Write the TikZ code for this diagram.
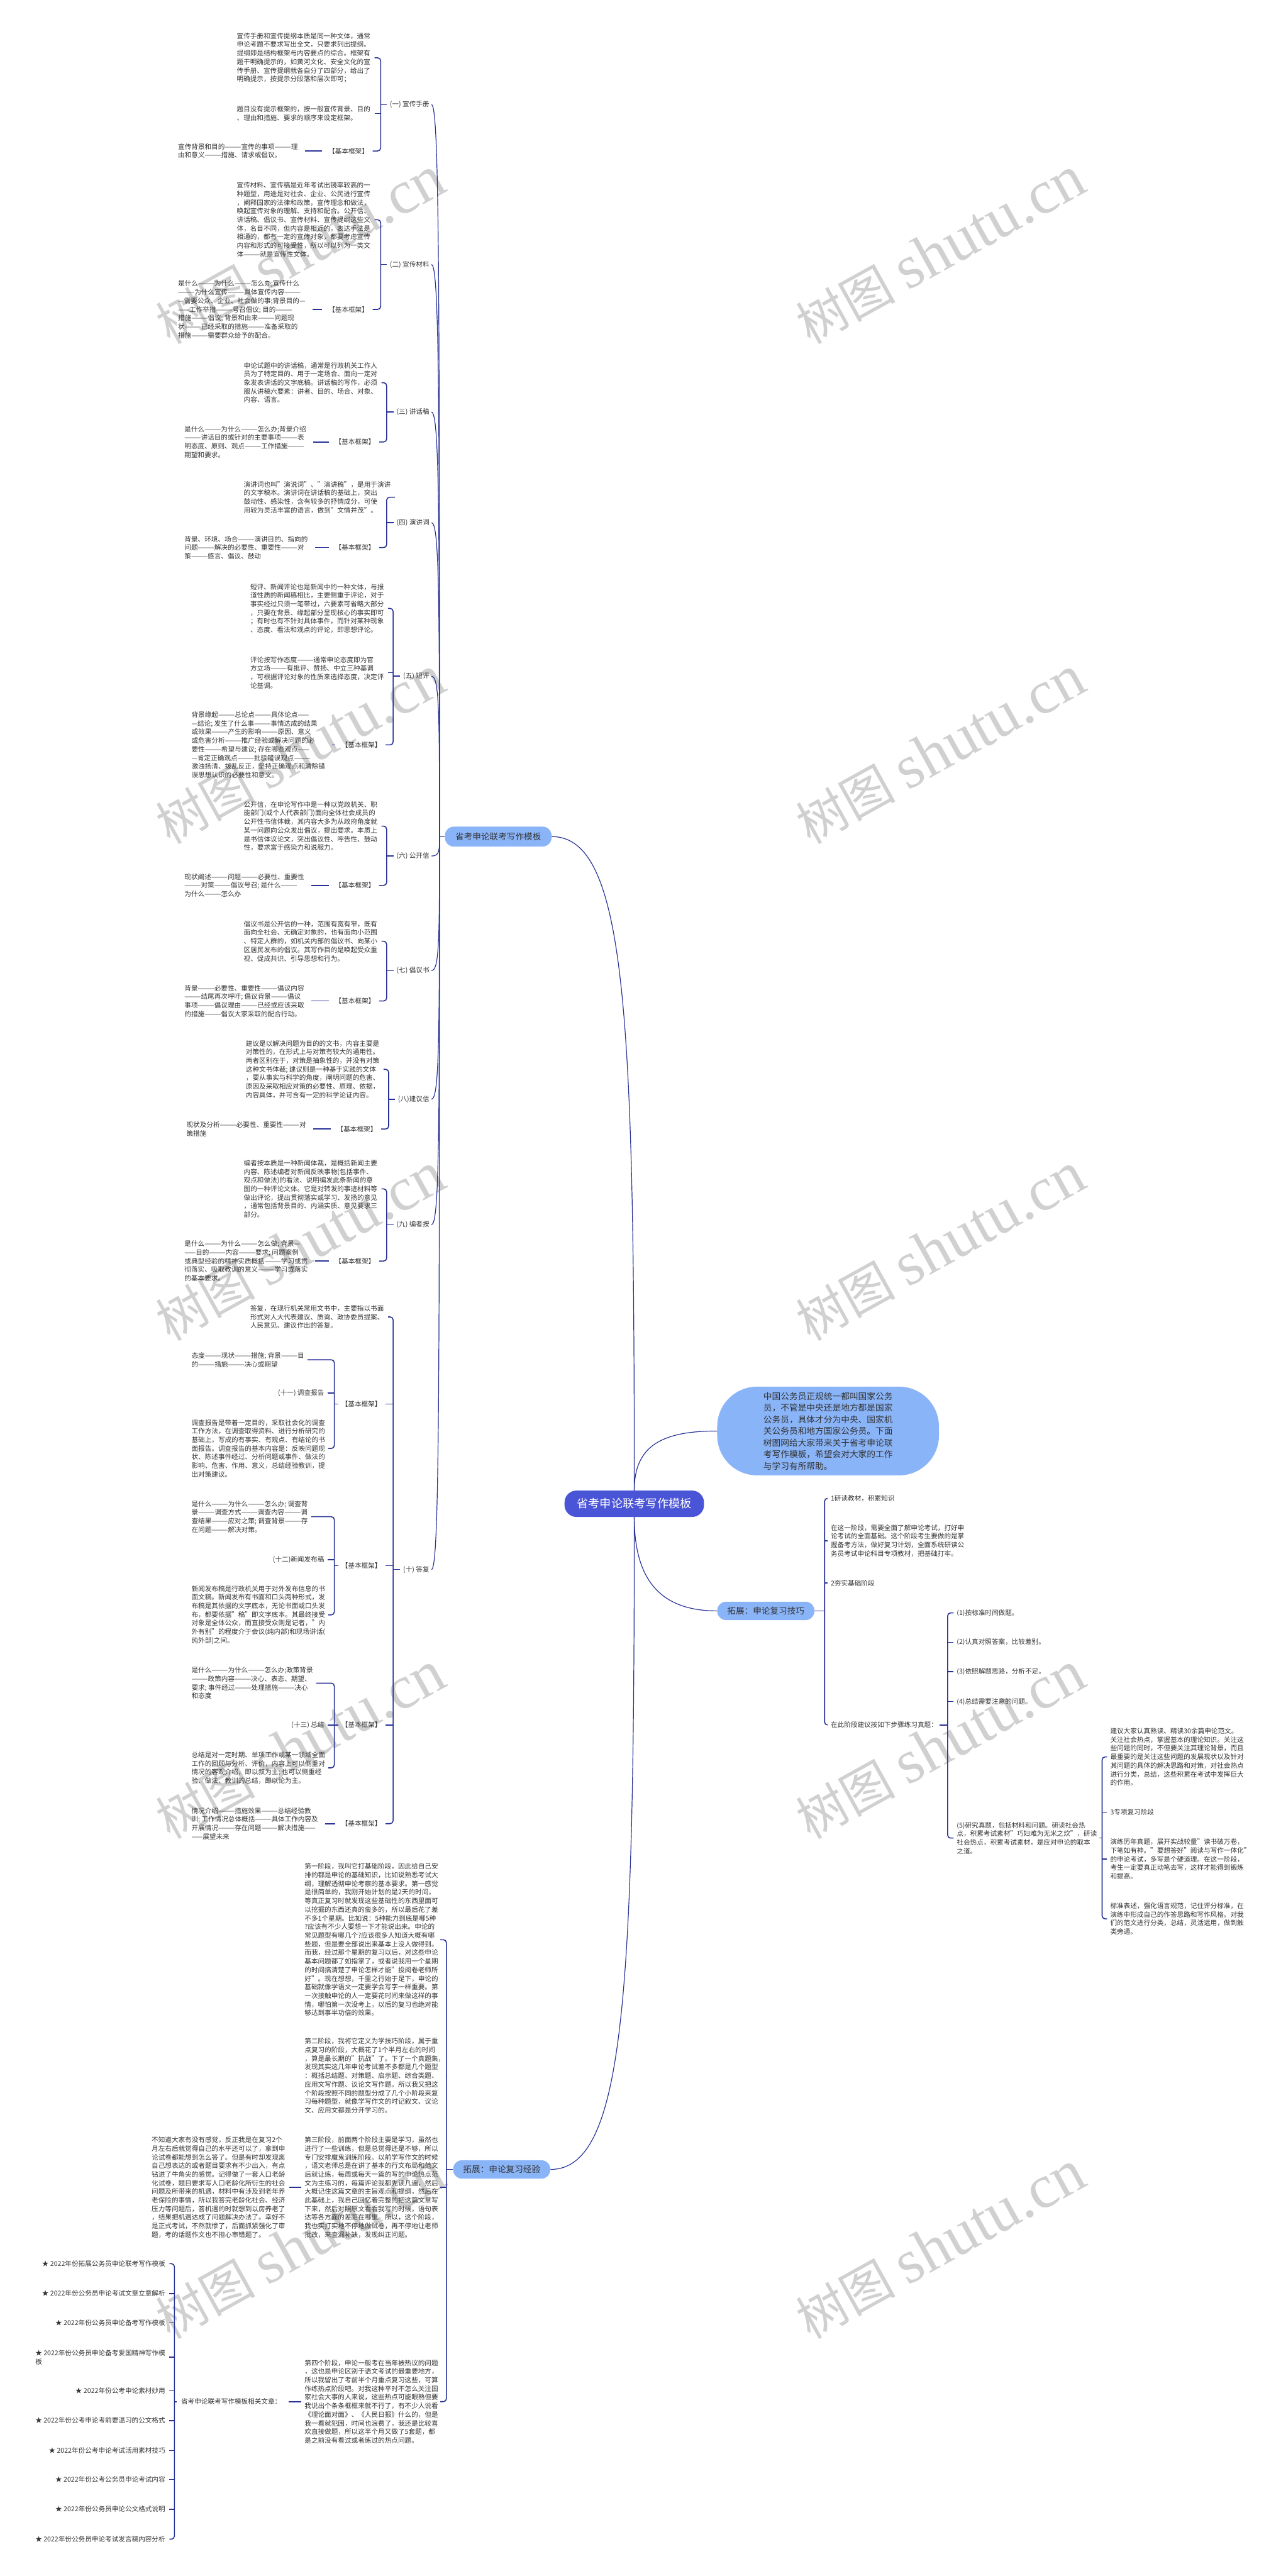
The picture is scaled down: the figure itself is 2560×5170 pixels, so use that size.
\documentclass[tikz,border=0pt]{standalone}
\usepackage{fontspec}
\setmainfont{Noto Sans CJK SC}
\newfontfamily\wmserif{Liberation Serif}
\definecolor{rootc}{RGB}{74,84,214}
\definecolor{lblue}{RGB}{138,180,248}
\definecolor{linec}{RGB}{40,50,150}
\definecolor{txtc}{RGB}{51,51,51}
\definecolor{wmc}{RGB}{208,208,208}
\newcommand{\wmtxt}{{\fontsize{50}{50}\selectfont 树图}\hspace{12pt}{\wmserif\fontsize{62}{62}\selectfont shutu.cn}}
\tikzset{
 txt/.style={font=\fontsize{6.7}{8.65}\selectfont, text=txtc, align=left, inner sep=0pt, anchor=west},
 lbl/.style={font=\fontsize{6.7}{8.65}\selectfont, text=txtc, inner sep=0pt, anchor=east},
 rlbl/.style={font=\fontsize{6.7}{8.65}\selectfont, text=txtc, inner sep=0pt, anchor=west},
 brk/.style={draw=linec, line width=1.0pt, rounded corners=3pt},
 crv/.style={draw=linec, line width=0.75pt},
 lbnode/.style={fill=lblue, rounded corners=9pt, font=\fontsize{8.6}{10}\selectfont, text=txtc, minimum height=18.5pt, minimum width=97.5pt, inner sep=0pt},
 rootnode/.style={fill=rootc, rounded corners=12pt, font=\fontsize{11.5}{13}\selectfont, text=white, minimum height=26.5pt, minimum width=140pt, inner sep=0pt},
 bubble/.style={fill=lblue, rounded corners=40pt, font=\fontsize{8.65}{11.65}\selectfont, text=txtc, minimum height=89pt, minimum width=222.5pt, align=left, inner sep=0pt},
 wm/.style={rotate=29, anchor=south west, text=wmc, inner sep=0pt},
}
\begin{document}
\begin{tikzpicture}[x=0.5pt,y=-0.5pt]
\useasboundingbox (0,0) rectangle (2560,5170);
\fill[white] (0,0) rectangle (2560,5170);
% watermarks
\foreach \yy/\nm in {700/a,1703/b,2700/c,3700/d,4703/e}{
 \node[wm] (wmL\nm) at (345,\yy) {\wmtxt};
 \node[wm] (wmR\nm) at (1630,\yy) {\wmtxt};
}
% ---------- central nodes
\node[rootnode] (R) at (1273,3018) {省考申论联考写作模板};
\node[bubble] (B) at (1662,2872) {中国公务员正规统一都叫国家公务\\员，不管是中央还是地方都是国家\\公务员，具体才分为中央、国家机\\关公务员和地方国家公务员。下面\\树图网给大家带来关于省考申论联\\考写作模板，希望会对大家的工作\\与学习有所帮助。};
\node[lbnode, minimum width=107pt, minimum height=20pt] (M) at (1000,1679) {省考申论联考写作模板};
\node[lbnode] (T) at (1537,3233) {拓展：申论复习技巧};
\node[lbnode] (E) at (1007,4354) {拓展：申论复习经验};
\draw[crv] (R.north) .. controls +(0,-950) and +(150,0) .. (M.east);
\draw[crv] (R.north) .. controls +(0,-90) and +(-110,0) .. (B.west);
\draw[crv] (R.south) .. controls +(0,130) and +(-110,0) .. (T.west);
\draw[crv] (R.south) .. controls +(0,950) and +(150,0) .. (E.east);
% ---------- left branch labels
\node[lbl] (L1) at (862,210) {(一) 宣传手册};
\node[lbl] (L2) at (862,531) {(二) 宣传材料};
\node[lbl] (L3) at (862,827) {(三) 讲话稿};
\node[lbl] (L4) at (862,1049) {(四) 演讲词};
\node[lbl] (L5) at (862,1357) {(五) 短评};
\node[lbl] (L6) at (862,1718) {(六) 公开信};
\node[lbl] (L7) at (862,1948) {(七) 倡议书};
\node[lbl] (L8) at (862,2206) {(八)建议信};
\node[lbl] (L9) at (862,2458) {(九) 编者按};
\node[lbl] (L10) at (862,3150) {(十) 答复};
\coordinate (sp) at (882,1679);
\draw[crv] (M.west) -- (sp);
\draw[crv] (sp) .. controls +(0,-1102) and +(16,0) .. ([xshift=2pt]L1.east);
\draw[crv] (sp) .. controls +(0,-861) and +(16,0) .. ([xshift=2pt]L2.east);
\draw[crv] (sp) .. controls +(0,-639) and +(16,0) .. ([xshift=2pt]L3.east);
\draw[crv] (sp) .. controls +(0,-473) and +(16,0) .. ([xshift=2pt]L4.east);
\draw[crv] (sp) .. controls +(0,-242) and +(16,0) .. ([xshift=2pt]L5.east);
\draw[crv] (sp) .. controls +(0,29) and +(16,0) .. ([xshift=2pt]L6.east);
\draw[crv] (sp) .. controls +(0,202) and +(16,0) .. ([xshift=2pt]L7.east);
\draw[crv] (sp) .. controls +(0,395) and +(16,0) .. ([xshift=2pt]L8.east);
\draw[crv] (sp) .. controls +(0,584) and +(16,0) .. ([xshift=2pt]L9.east);
\draw[crv] (sp) .. controls +(0,1103) and +(16,0) .. ([xshift=2pt]L10.east);
% ---------- (一)
\node[txt] (A1) at (475,116) {宣传手册和宣传提纲本质是同一种文体，通常\\申论考题不要求写出全文，只要求列出提纲。\\提纲即是结构框架与内容要点的综合。框架有\\题干明确提示的，如黄河文化、安全文化的宣\\传手册、宣传提纲就各自分了四部分，给出了\\明确提示，按提示分段落和层次即可；};
\node[txt] (A2) at (475,228) {题目没有提示框架的，按一般宣传背景、目的\\、理由和措施、要求的顺序来设定框架。};
\node[lbl] (K1) at (740,303) {【基本框架】};
\node[txt] (T1) at (357,303) {宣传背景和目的———宣传的事项———理\\由和意义———措施、请求或倡议。};
\coordinate (b1) at (764,0);
\draw[brk] ([xshift=4pt]A1.east) -- (A1.east -| b1) -- (K1.east -| b1) -- ([xshift=4pt]K1.east);
\draw[brk] ([xshift=4pt]A2.east) -- (A2.east -| b1);
\draw[brk] (L1.west -| b1) -- ([xshift=-3pt]L1.west);
\draw[brk] ([xshift=-6pt]K1.west) -- ([xshift=7pt]T1.east);
% ---------- (二)
\node[txt] (B1) at (475,441) {宣传材料、宣传稿是近年考试出镜率较高的一\\种题型，用途是对社会、企业、公民进行宣传\\，阐释国家的法律和政策，宣传理念和做法，\\唤起宣传对象的理解、支持和配合。公开信、\\讲话稿、倡议书、宣传材料、宣传提纲这些文\\体，名目不同，但内容是相近的，表达手法是\\相通的，都有一定的宣传对象，都要考虑宣传\\内容和形式的可接受性，所以可以列为一类文\\体———就是宣传性文体。};
\node[lbl] (K2) at (740,621) {【基本框架】};
\node[txt] (T2) at (357,621) {是什么———为什么———怎么办;宣传什么\\———为什么宣传———具体宣传内容———\\—需要公众、企业、社会做的事;背景目的—\\——工作举措———号召倡议; 目的———\\措施———倡议; 背景和由来———问题现\\状———已经采取的措施———准备采取的\\措施———需要群众给予的配合。};
\coordinate (b2) at (764,0);
\draw[brk] ([xshift=4pt]B1.east) -- (B1.east -| b2) -- (K2.east -| b2) -- ([xshift=4pt]K2.east);
\draw[brk] (L2.west -| b2) -- ([xshift=-3pt]L2.west);
\draw[brk] ([xshift=-6pt]K2.west) -- ([xshift=7pt]T2.east);
% ---------- (三)
\node[txt] (C1) at (489,768) {申论试题中的讲话稿，通常是行政机关工作人\\员为了特定目的、用于一定场合、面向一定对\\象发表讲话的文字底稿。讲话稿的写作，必须\\服从讲稿六要素：讲者、目的、场合、对象、\\内容、语言。};
\node[lbl] (K3) at (753,887) {【基本框架】};
\node[txt] (T3) at (370,887) {是什么———为什么———怎么办;背景介绍\\———讲话目的或针对的主要事项———表\\明态度、原则、观点———工作措施———\\期望和要求。};
\coordinate (b3) at (776,0);
\draw[brk] ([xshift=4pt]C1.east) -- (C1.east -| b3) -- (K3.east -| b3) -- ([xshift=4pt]K3.east);
\draw[brk] (L3.west -| b3) -- ([xshift=-3pt]L3.west);
\draw[brk] ([xshift=-6pt]K3.west) -- ([xshift=7pt]T3.east);
% ---------- (四)
\node[txt] (D1) at (489,998) {演讲词也叫"演说词"、"演讲稿"，是用于演讲\\的文字稿本。演讲词在讲话稿的基础上，突出\\鼓动性、感染性，含有较多的抒情成分，可使\\用较为灵活丰富的语言，做到"文情并茂"。};
\node[lbl] (K4) at (753,1099) {【基本框架】};
\node[txt] (T4) at (370,1099) {背景、环境、场合———演讲目的、指向的\\问题———解决的必要性、重要性———对\\策———感言、倡议、鼓动};
\coordinate (b4) at (776,0);
\draw[brk] ([xshift=4pt]D1.east) -- (D1.east -| b4) -- (K4.east -| b4) -- ([xshift=4pt]K4.east);
\draw[brk] (L4.west -| b4) -- ([xshift=-3pt]L4.west);
\draw[brk] ([xshift=-6pt]K4.west) -- ([xshift=7pt]T4.east);
% ---------- (五)
\node[txt] (E1) at (502,1221) {短评、新闻评论也是新闻中的一种文体，与报\\道性质的新闻稿相比，主要侧重于评论，对于\\事实经过只须一笔带过，六要素可省略大部分\\，只要在背景、缘起部分呈现核心的事实即可\\；有时也有不针对具体事件，而针对某种现象\\、态度、看法和观点的评论，即思想评论。};
\node[txt] (E2) at (502,1350) {评论按写作态度———通常申论态度即为官\\方立场———有批评、赞扬、中立三种基调\\，可根据评论对象的性质来选择态度，决定评\\论基调。};
\node[lbl] (K5) at (766,1495) {【基本框架】};
\node[txt] (T5) at (384,1495) {背景缘起———总论点———具体论点——\\—结论; 发生了什么事———事情达成的结果\\或效果———产生的影响———原因、意义\\或危害分析———推广经验或解决问题的必\\要性———希望与建议; 存在哪些观点——\\—肯定正确观点———批驳错误观点———\\激浊扬清、拨乱反正，坚持正确观点和清除错\\误思想认识的必要性和意义。};
\coordinate (b5) at (789,0);
\draw[brk] ([xshift=4pt]E1.east) -- (E1.east -| b5) -- (K5.east -| b5) -- ([xshift=4pt]K5.east);
\draw[brk] ([xshift=4pt]E2.east) -- (E2.east -| b5);
\draw[brk] (L5.west -| b5) -- ([xshift=-3pt]L5.west);
\draw[brk] ([xshift=-6pt]K5.west) -- ([xshift=7pt]T5.east);
% ---------- (六)
\node[txt] (F1) at (489,1658) {公开信，在申论写作中是一种以党政机关、职\\能部门(或个人代表部门)面向全体社会成员的\\公开性书信体裁，其内容大多为从政府角度就\\某一问题向公众发出倡议，提出要求。本质上\\是书信体议论文，突出倡议性、呼告性、鼓动\\性，要求富于感染力和说服力。};
\node[lbl] (K6) at (753,1777) {【基本框架】};
\node[txt] (T6) at (370,1777) {现状阐述———问题———必要性、重要性\\———对策———倡议号召; 是什么———\\为什么———怎么办};
\coordinate (b6) at (776,0);
\draw[brk] ([xshift=4pt]F1.east) -- (F1.east -| b6) -- (K6.east -| b6) -- ([xshift=4pt]K6.east);
\draw[brk] (L6.west -| b6) -- ([xshift=-3pt]L6.west);
\draw[brk] ([xshift=-6pt]K6.west) -- ([xshift=7pt]T6.east);
% ---------- (七)
\node[txt] (G1) at (489,1889) {倡议书是公开信的一种，范围有宽有窄，既有\\面向全社会、无确定对象的，也有面向小范围\\、特定人群的，如机关内部的倡议书、向某小\\区居民发布的倡议。其写作目的是唤起受众重\\视、促成共识、引导思想和行为。};
\node[lbl] (K7) at (753,2009) {【基本框架】};
\node[txt] (T7) at (370,2009) {背景———必要性、重要性———倡议内容\\———结尾再次呼吁; 倡议背景———倡议\\事项———倡议理由———已经或应该采取\\的措施———倡议大家采取的配合行动。};
\coordinate (b7) at (776,0);
\draw[brk] ([xshift=4pt]G1.east) -- (G1.east -| b7) -- (K7.east -| b7) -- ([xshift=4pt]K7.east);
\draw[brk] (L7.west -| b7) -- ([xshift=-3pt]L7.west);
\draw[brk] ([xshift=-6pt]K7.west) -- ([xshift=7pt]T7.east);
% ---------- (八)
\node[txt] (H1) at (493,2146) {建议是以解决问题为目的的文书，内容主要是\\对策性的，在形式上与对策有较大的通用性。\\两者区别在于，对策是抽象性的，并没有对策\\这种文书体裁; 建议则是一种基于实践的文体\\，要从事实与科学的角度，阐明问题的危害、\\原因及采取相应对策的必要性、原理、依据，\\内容具体，并可含有一定的科学论证内容。};
\node[lbl] (K8) at (757,2266) {【基本框架】};
\node[txt] (T8) at (374,2266) {现状及分析———必要性、重要性———对\\策措施};
\coordinate (b8) at (780,0);
\draw[brk] ([xshift=4pt]H1.east) -- (H1.east -| b8) -- (K8.east -| b8) -- ([xshift=4pt]K8.east);
\draw[brk] (L8.west -| b8) -- ([xshift=-3pt]L8.west);
\draw[brk] ([xshift=-6pt]K8.west) -- ([xshift=7pt]T8.east);
% ---------- (九)
\node[txt] (I1) at (489,2386) {编者按本质是一种新闻体裁，是概括新闻主要\\内容、陈述编者对新闻反映事物(包括事件、\\观点和做法)的看法、说明编发此条新闻的意\\图的一种评论文体。它是对转发的事迹材料等\\做出评论，提出贯彻落实或学习、发扬的意见\\，通常包括背景目的、内涵实质、意见要求三\\部分。};
\node[lbl] (K9) at (753,2531) {【基本框架】};
\node[txt] (T9) at (370,2531) {是什么———为什么———怎么做; 背景—\\——目的———内容———要求; 问题案例\\或典型经验的精神实质概括———学习或贯\\彻落实、吸取教训的意义———学习或落实\\的基本要求。};
\coordinate (b9) at (776,0);
\draw[brk] ([xshift=4pt]I1.east) -- (I1.east -| b9) -- (K9.east -| b9) -- ([xshift=4pt]K9.east);
\draw[brk] (L9.west -| b9) -- ([xshift=-3pt]L9.west);
\draw[brk] ([xshift=-6pt]K9.west) -- ([xshift=7pt]T9.east);
% ---------- (十)
\node[txt] (J1) at (502,2643) {答复，在现行机关常用文书中，主要指以书面\\形式对人大代表建议、质询、政协委员提案、\\人民意见、建议作出的答复。};
\node[lbl] (Ka) at (766,2818) {【基本框架】};
\node[lbl] (Kb) at (766,3142) {【基本框架】};
\node[lbl] (Kc) at (766,3462) {【基本框架】};
\node[lbl] (Kd) at (766,3660) {【基本框架】};
\coordinate (b10) at (789,0);
\draw[brk] ([xshift=4pt]J1.east) -- (J1.east -| b10) -- (Kd.east -| b10) -- ([xshift=4pt]Kd.east);
\draw[brk] ([xshift=4pt]Ka.east) -- (Ka.east -| b10);
\draw[brk] ([xshift=4pt]Kb.east) -- (Kb.east -| b10);
\draw[brk] ([xshift=4pt]Kc.east) -- (Kc.east -| b10);
\draw[brk] (L10.west -| b10) -- ([xshift=-3pt]L10.west);
\coordinate (bj) at (671,0);
% Ka children
\node[txt] (Ja1) at (384,2729) {态度———现状———措施; 背景———目\\的———措施———决心或期望};
\node[lbl] (La11) at (651,2796) {(十一) 调查报告};
\node[txt] (Ja2) at (384,2907) {调查报告是带着一定目的，采取社会化的调查\\工作方法，在调查取得资料、进行分析研究的\\基础上，写成的有事实、有观点、有结论的书\\面报告。调查报告的基本内容是：反映问题现\\状、陈述事件经过、分析问题或事件、做法的\\影响、危害、作用、意义，总结经验教训，提\\出对策建议。};
\draw[brk] ([xshift=3pt]Ja1.east) -- (Ja1.east -| bj) -- (Ja2.east -| bj) -- ([xshift=3pt]Ja2.east);
\draw[brk] ([xshift=3pt]La11.east) -- (La11.east -| bj);
\draw[brk] (Ka.west -| bj) -- ([xshift=-3pt]Ka.west);
% Kb children
\node[txt] (Jb1) at (384,3044) {是什么———为什么———怎么办; 调查背\\景———调查方式———调查内容———调\\查结果———应对之策; 调查背景———存\\在问题———解决对策。};
\node[lbl] (Lb12) at (651,3130) {(十二)新闻发布稿};
\node[txt] (Jb2) at (384,3241) {新闻发布稿是行政机关用于对外发布信息的书\\面文稿。新闻发布有书面和口头两种形式，发\\布稿是其依据的文字底本，无论书面或口头发\\布，都要依据"稿"即文字底本。其最终接受\\对象是全体公众，而直接受众则是记者，"内\\外有别"的程度介于会议(纯内部)和现场讲话(\\纯外部)之间。};
\draw[brk] ([xshift=3pt]Jb1.east) -- (Jb1.east -| bj) -- (Jb2.east -| bj) -- ([xshift=3pt]Jb2.east);
\draw[brk] ([xshift=3pt]Lb12.east) -- (Lb12.east -| bj);
\draw[brk] (Kb.west -| bj) -- ([xshift=-3pt]Kb.west);
% Kc children
\node[txt] (Jc1) at (384,3378) {是什么———为什么———怎么办;政策背景\\———政策内容———决心、表态、期望、\\要求; 事件经过———处理措施———决心\\和态度};
\node[lbl] (Lc13) at (651,3462) {(十三) 总结};
\node[txt] (Jc2) at (384,3548) {总结是对一定时期、单项工作或某一领域全面\\工作的回顾与分析、评价，内容上可以侧重对\\情况的客观介绍，即以叙为主; 也可以侧重经\\验、做法、教训的总结，即以论为主。};
\draw[brk] ([xshift=3pt]Jc1.east) -- (Jc1.east -| bj) -- (Jc2.east -| bj) -- ([xshift=3pt]Jc2.east);
\draw[brk] ([xshift=3pt]Lc13.east) -- (Lc13.east -| bj);
\draw[brk] (Kc.west -| bj) -- ([xshift=-3pt]Kc.west);
% Kd child
\node[txt] (Jd) at (384,3660) {情况介绍———措施效果———总结经验教\\训; 工作情况总体概括———具体工作内容及\\开展情况———存在问题———解决措施——\\——展望未来};
\draw[brk] ([xshift=-6pt]Kd.west) -- ([xshift=7pt]Jd.east);
% ---------- right branch
\node[rlbl] (R1) at (1667,3007) {1研读教材，积累知识};
\node[txt] (R2) at (1667,3092) {在这一阶段，需要全面了解申论考试，打好申\\论考试的全面基础。这个阶段考生要做的是掌\\握备考方法，做好复习计划，全面系统研读公\\务员考试申论科目专项教材，把基础打牢。};
\node[rlbl] (R3) at (1667,3177) {2夯实基础阶段};
\node[rlbl] (R4) at (1667,3462) {在此阶段建议按如下步骤练习真题：};
\coordinate (bT) at (1655,0);
\draw[brk] ([xshift=-3pt]R1.west) -- (R1.west -| bT) -- (R4.west -| bT) -- ([xshift=-3pt]R4.west);
\draw[brk] ([xshift=-3pt]R2.west) -- (R2.west -| bT);
\draw[brk] ([xshift=-3pt]R3.west) -- (R3.west -| bT);
\draw[brk] (T.east) -- (T.east -| bT);
\node[rlbl] (S1) at (1920,3237) {(1)按标准时间做题。};
\node[rlbl] (S2) at (1920,3296) {(2)认真对照答案，比较差别。};
\node[rlbl] (S3) at (1920,3355) {(3)依照解题思路，分析不足。};
\node[rlbl] (S4) at (1920,3415) {(4)总结需要注意的问题。};
\node[txt] (S5) at (1920,3689) {(5)研究真题，包括材料和问题。研读社会热\\点，积累考试素材"巧妇难为无米之炊"，研读\\社会热点，积累考试素材，是应对申论的取本\\之道。};
\coordinate (bS) at (1902,0);
\draw[brk] ([xshift=-3pt]S1.west) -- (S1.west -| bS) -- (S5.west -| bS) -- ([xshift=-3pt]S5.west);
\draw[brk] ([xshift=-3pt]S2.west) -- (S2.west -| bS);
\draw[brk] ([xshift=-3pt]S3.west) -- (S3.west -| bS);
\draw[brk] ([xshift=-3pt]S4.west) -- (S4.west -| bS);
\draw[brk] ([xshift=2pt]R4.east) -- (R4.east -| bS);
\node[txt] (U1) at (2228,3526) {建议大家认真熟读、精读30余篇申论范文。\\关注社会热点，掌握基本的理论知识。关注这\\些问题的同时，不但要关注其理论背景，而且\\最重要的是关注这些问题的发展现状以及针对\\其问题的具体的解决思路和对策，对社会热点\\进行分类，总结，这些积累在考试中发挥巨大\\的作用。};
\node[rlbl] (U2) at (2228,3637) {3专项复习阶段};
\node[txt] (U3) at (2228,3731) {演练历年真题，展开实战较量"读书破万卷，\\下笔如有神。"要想答好"阅读与写作一体化"\\的申论考试，多写是个硬道理。在这一阶段，\\考生一定要真正动笔去写，这样才能得到锻炼\\和提高。};
\node[txt] (U4) at (2228,3851) {标准表述，强化语言规范，记住评分标准，在\\演练中形成自己的作答思路和写作风格。对我\\们的范文进行分类，总结，灵活运用，做到触\\类旁通。};
\coordinate (bU) at (2212,0);
\draw[brk] ([xshift=-3pt]U1.west) -- (U1.west -| bU) -- (U4.west -| bU) -- ([xshift=-3pt]U4.west);
\draw[brk] ([xshift=-3pt]U2.west) -- (U2.west -| bU);
\draw[brk] ([xshift=-3pt]U3.west) -- (U3.west -| bU);
\draw[brk] ([xshift=2pt]S5.east) -- (S5.east -| bU);
% ---------- bottom branch
\node[txt] (P1) at (611,3893) {第一阶段，我叫它打基础阶段，因此给自己安\\排的都是申论的基础知识，比如说熟悉考试大\\纲，理解透彻申论考察的基本要求。第一感觉\\是很简单的，我刚开始计划的是2天的时间，\\等真正复习时就发现这些基础性的东西里面可\\以挖掘的东西还真的蛮多的，所以最后花了差\\不多1个星期。比如说：5种能力到底是哪5种\\?应该有不少人要想一下才能说出来。申论的\\常见题型有哪几个?应该很多人知道大概有哪\\些题，但是要全部说出来基本上没人做得到。\\而我，经过那个星期的复习以后，对这些申论\\基本问题都了如指掌了，或者说我用一个星期\\的时间搞清楚了申论怎样才能"投阅卷老师所\\好"。现在想想，千里之行始于足下，申论的\\基础就像学语文一定要学会写字一样重要。第\\一次接触申论的人一定要花时间来做这样的事\\情，哪怕第一次没考上，以后的复习也绝对能\\够达到事半功倍的效果。};
\node[txt] (P2) at (611,4166) {第二阶段，我将它定义为学技巧阶段，属于重\\点复习的阶段，大概花了1个半月左右的时间\\，算是最长期的"抗战"了。下了一个真题集，\\发现其实这几年申论考试差不多都是几个题型\\：概括总结题、对策题、启示题、综合类题、\\应用文写作题、议论文写作题。所以我又把这\\个阶段按照不同的题型分成了几个小阶段来复\\习每种题型，就像学写作文的时记叙文、议论\\文、应用文都是分开学习的。};
\node[txt] (P3) at (611,4390) {第三阶段，前面两个阶段主要是学习，虽然也\\进行了一些训练，但是总觉得还是不够，所以\\专门安排魔鬼训练阶段。以前学写作文的时候\\，语文老师总是在讲了基本的行文布局和范文\\后就让练，每周或每天一篇的写的申论热点范\\文为主练习的，每篇评论我都先读几遍，然后\\大概记住这篇文章的主旨观点和提纲，然后在\\此基础上，我自己回忆着完整的把这篇文章写\\下来，然后对照原文看看我写的时候，语句表\\达等各方面的差距在哪里。所以，这个阶段，\\我也实打实地不停地做试卷，再不停地让老师\\批改，来查漏补缺，发现纠正问题。};
\node[txt] (P4) at (611,4820) {第四个阶段，申论一般考在当年被热议的问题\\，这也是申论区别于语文考试的最重要地方，\\所以我留出了考前半个月重点复习这些，可算\\作练热点阶段吧。对我这种平时不怎么关注国\\家社会大事的人来说，这些热点可能眼熟但要\\我说出个条条框框来就不行了，有不少人说看\\《理论面对面》、《人民日报》什么的，但是\\我一看就犯困，时间也浪费了，我还是比较喜\\欢直接做题，所以这半个月又做了5套题，都\\是之前没有看过或者练过的热点问题。};
\coordinate (bE) at (896,0);
\draw[brk] ([xshift=2pt]P1.east) -- (P1.east -| bE) -- (P4.east -| bE) -- ([xshift=2pt]P4.east);
\draw[brk] ([xshift=2pt]P2.east) -- (P2.east -| bE);
\draw[brk] ([xshift=2pt]P3.east) -- (P3.east -| bE);
\draw[brk] (E.west) -- (E.west -| bE);
\node[txt] (Q) at (304,4390) {不知道大家有没有感觉，反正我是在复习2个\\月左右后就觉得自己的水平还可以了，拿到申\\论试卷都能想到怎么答了。但是有时却发现离\\自己想表达的或者题目要求有不少出入，有点\\钻进了牛角尖的感觉。记得做了一套人口老龄\\化试卷，题目要求写人口老龄化所衍生的社会\\问题及所带来的机遇，材料中有涉及到老年养\\老保险的事情，所以我答完老龄化社会、经济\\压力等问题后，答机遇的时就想到以房养老了\\，结果把机遇达成了问题解决办法了。幸好不\\是正式考试，不然就惨了，后面抓紧强化了审\\题，考的话题作文也不担心审错题了。};
\draw[brk] ([xshift=-3pt]P3.west) -- ([xshift=4pt]Q.east);
\node[lbl] (W) at (565,4820) {省考申论联考写作模板相关文章：};
\draw[brk] ([xshift=-3pt]P4.west) -- ([xshift=7pt]W.east);
\node[lbl] (N1) at (332,4543) {★ 2022年份拓展公务员申论联考写作模板};
\node[lbl] (N2) at (332,4603) {★ 2022年份公务员申论考试文章立意解析};
\node[lbl] (N3) at (332,4662) {★ 2022年份公务员申论备考写作模板};
\node[lbl, align=left] (N4) at (332,4731) {★ 2022年份公务员申论备考爱国精神写作模\\板};
\node[lbl] (N5) at (332,4798) {★ 2022年份公考申论素材妙用};
\node[lbl] (N6) at (332,4858) {★ 2022年份公考申论考前要温习的公文格式};
\node[lbl] (N7) at (332,4918) {★ 2022年份公考申论考试活用素材技巧};
\node[lbl] (N8) at (332,4976) {★ 2022年份公考公务员申论考试内容};
\node[lbl] (N9) at (332,5036) {★ 2022年份公务员申论公文格式说明};
\node[lbl] (N10) at (332,5096) {★ 2022年份公务员申论考试发言稿内容分析};
\coordinate (bN) at (350,0);
\draw[brk] ([xshift=4pt]N1.east) -- (N1.east -| bN) -- (N10.east -| bN) -- ([xshift=4pt]N10.east);
\foreach \k in {2,...,9}{ \draw[brk] ([xshift=4pt]N\k.east) -- (N\k.east -| bN); }
\draw[brk] (W.west -| bN) -- ([xshift=-4pt]W.west);
\end{tikzpicture}
\end{document}
